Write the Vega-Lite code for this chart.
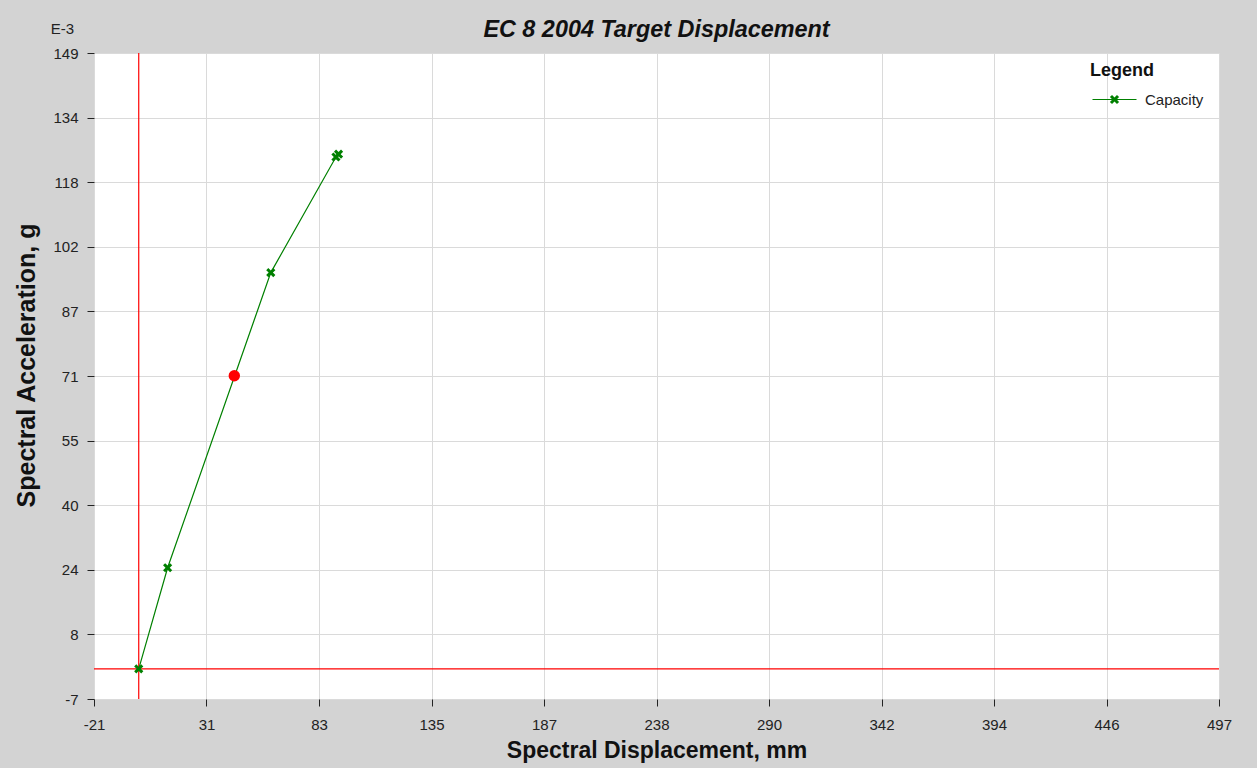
{
  "$schema": "https://vega.github.io/schema/vega-lite/v6.json",
  "width": 1125,
  "height": 646,
  "autosize": {"type": "none"},
  "padding": {"left": 94, "top": 53, "right": 38, "bottom": 69},
  "background": "#d3d3d3",
  "config": {
    "view": {"fill": "#ffffff", "stroke": null},
    "font": "Liberation Sans",
    "axis": {
      "domain": false,
      "tickColor": "#222222",
      "tickSize": 7,
      "tickWidth": 1,
      "gridColor": "#dadada",
      "gridWidth": 1,
      "labelFont": "Liberation Sans",
      "labelFontSize": 15,
      "labelColor": "#222222",
      "labelFlush": false,
      "titleFont": "Liberation Sans",
      "titleFontSize": 23,
      "titleFontWeight": "bold",
      "titleColor": "#111111"
    }
  },
  "title": {
    "text": "EC 8 2004 Target Displacement",
    "font": "Liberation Sans",
    "fontSize": 23.4,
    "fontWeight": "bold",
    "fontStyle": "italic",
    "color": "#111111",
    "anchor": "middle",
    "frame": "group",
    "baseline": "alphabetic",
    "offset": -38
  },
  "datasets": {
    "capacity": [
      {"sd": 0, "sa": 0, "series": "Capacity"},
      {"sd": 13.3, "sa": 24.5, "series": "Capacity"},
      {"sd": 60.8, "sa": 96.0, "series": "Capacity"},
      {"sd": 90.8, "sa": 124.0, "series": "Capacity"},
      {"sd": 92.0, "sa": 124.7, "series": "Capacity"}
    ],
    "target": [{"sd": 44.0, "sa": 71.0}],
    "origin": [{"sd": 0, "sa": 0}],
    "unit": [{"label": "E-3", "sd": -20.6, "sa": 149.2}]
  },
  "layer": [
    {
      "data": {"name": "origin"},
      "mark": {"type": "rule", "color": "#ff0000", "strokeWidth": 1.2},
      "encoding": {
        "x": {"field": "sd", "type": "quantitative", "title": "Spectral Displacement, mm", "scale": {"domain": [-20.6, 497.4], "nice": false, "zero": false},
          "axis": {
            "title": "Spectral Displacement, mm",
            "values": [-20.6, 31.2, 83, 134.8, 186.6, 238.4, 290.2, 342, 393.8, 445.6, 497.4],
            "labelExpr": "'' + round(datum.value)",
            "labelFlush": false,
            "labelPadding": 11,
            "titleX": 562.5,
            "titleY": 58,
            "titleAlign": "center",
            "titleBaseline": "alphabetic"
          }
        }
      }
    },
    {
      "data": {"name": "origin"},
      "mark": {"type": "rule", "color": "#ff0000", "strokeWidth": 1.2},
      "encoding": {
        "y": {"field": "sa", "type": "quantitative", "title": "Spectral Acceleration, g", "scale": {"domain": [-7.3, 149.2], "nice": false, "zero": false},
          "axis": {
            "title": "Spectral Acceleration, g",
            "values": [-7.3, 8.35, 24, 39.65, 55.3, 70.95, 86.6, 102.25, 117.9, 133.55, 149.2],
            "labelExpr": "'' + round(datum.value)",
            "labelFlush": false,
            "labelPadding": 9,
            "titleFontSize": 25,
            "titleX": -68,
            "titleY": 312,
            "titleAlign": "center",
            "titleBaseline": "middle",
            "titleAngle": -90
          }
        }
      }
    },
    {
      "data": {"name": "capacity"},
      "mark": {"type": "line", "color": "#008000", "strokeWidth": 1.2},
      "encoding": {
        "x": {"field": "sd", "type": "quantitative", "title": "Spectral Displacement, mm", "scale": {"domain": [-20.6, 497.4], "nice": false, "zero": false}},
        "y": {"field": "sa", "type": "quantitative", "title": "Spectral Acceleration, g", "scale": {"domain": [-7.3, 149.2], "nice": false, "zero": false}}
      }
    },
    {
      "data": {"name": "capacity"},
      "mark": {
        "type": "point",
        "filled": true,
        "opacity": 1,
        "size": 4,
        "strokeWidth": 0,
        "shape": "M4.6,-2.47L2.12,0L4.6,2.47L2.47,4.6L0,2.12L-2.47,4.6L-4.6,2.47L-2.12,0L-4.6,-2.47L-2.47,-4.6L0,-2.12L2.47,-4.6Z"
      },
      "encoding": {
        "x": {"field": "sd", "type": "quantitative", "title": "Spectral Displacement, mm", "scale": {"domain": [-20.6, 497.4], "nice": false, "zero": false}},
        "y": {"field": "sa", "type": "quantitative", "title": "Spectral Acceleration, g", "scale": {"domain": [-7.3, 149.2], "nice": false, "zero": false}},
        "color": {
          "field": "series", "type": "nominal",
          "scale": {"range": ["#008000"]},
          "legend": {
            "title": "Legend",
            "orient": "none",
            "legendX": 996,
            "legendY": 9,
            "padding": 0,
            "titleFont": "Liberation Sans",
            "titleFontSize": 18,
            "titleFontWeight": "bold",
            "titleColor": "#111111",
            "titlePadding": 12,
            "labelFont": "Liberation Sans",
            "labelFontSize": 15,
            "labelColor": "#222222",
            "labelOffset": 40,
            "symbolType": "M-5,-0.5H39V0.5H-5ZM21.6,-2.47L19.12,0L21.6,2.47L19.47,4.6L17,2.12L14.53,4.6L12.4,2.47L14.88,0L12.4,-2.47L14.53,-4.6L17,-2.12L19.47,-4.6Z",
            "symbolSize": 4,
            "symbolFillColor": "#008000",
            "symbolStrokeWidth": 0,
            "symbolOpacity": 1
          }
        }
      }
    },
    {
      "data": {"name": "target"},
      "mark": {"type": "point", "shape": "circle", "filled": true, "color": "#ff0000", "opacity": 1, "size": 130},
      "encoding": {
        "x": {"field": "sd", "type": "quantitative", "title": "Spectral Displacement, mm", "scale": {"domain": [-20.6, 497.4], "nice": false, "zero": false}},
        "y": {"field": "sa", "type": "quantitative", "title": "Spectral Acceleration, g", "scale": {"domain": [-7.3, 149.2], "nice": false, "zero": false}}
      }
    },
    {
      "data": {"name": "unit"},
      "mark": {"type": "text", "align": "right", "baseline": "alphabetic", "dx": -20, "dy": -19, "fontSize": 15, "color": "#222222", "font": "Liberation Sans"},
      "encoding": {
        "x": {"field": "sd", "type": "quantitative", "title": "Spectral Displacement, mm", "scale": {"domain": [-20.6, 497.4], "nice": false, "zero": false}},
        "y": {"field": "sa", "type": "quantitative", "title": "Spectral Acceleration, g", "scale": {"domain": [-7.3, 149.2], "nice": false, "zero": false}},
        "text": {"field": "label", "type": "nominal"}
      }
    }
  ]
}
